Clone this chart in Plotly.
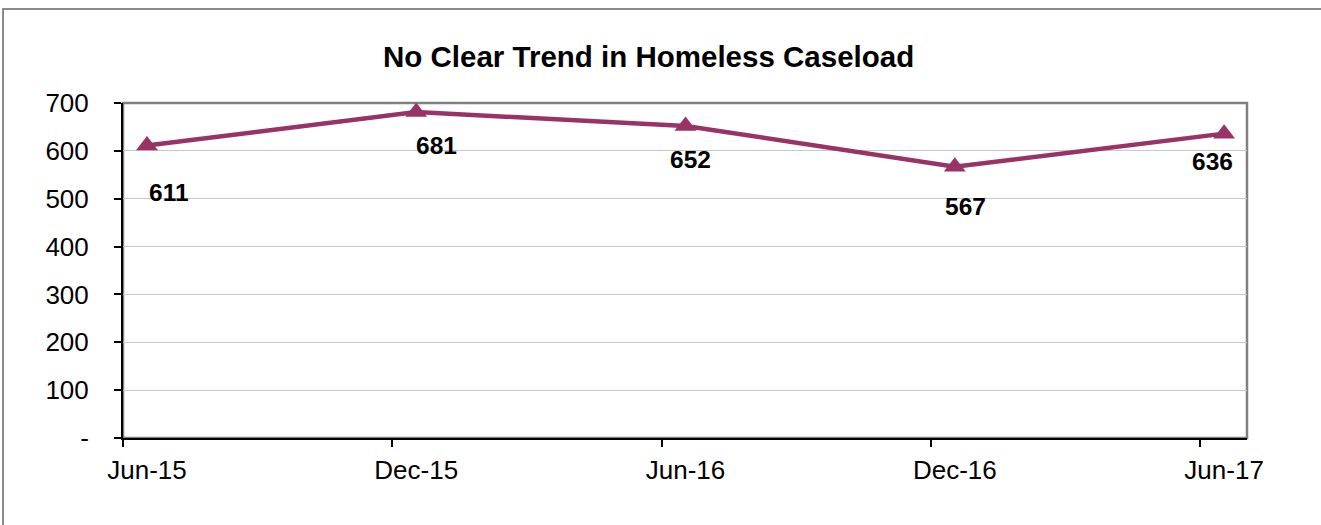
import plotly.graph_objects as go

# ---- data ----
categories = ["Jun-15", "Dec-15", "Jun-16", "Dec-16", "Jun-17"]
caseload = [611, 681, 652, 567, 636]
y_tick_vals = [0, 100, 200, 300, 400, 500, 600, 700]
y_tick_text = ["-", "100", "200", "300", "400", "500", "600", "700"]
title_text = "No Clear Trend in Homeless Caseload"

# ---- label offsets (pixels, style only) ----
label_dx = [22, 20, 5, 11, -12]
label_dy = [-47, -33, -34, -40, -28]

x_idx = list(range(len(categories)))
x_lo, x_hi = -0.089, 4.085
minor_ticks = [i + x_lo for i in x_idx]

FONT = "Liberation Sans, Arial, sans-serif"
LINE_COLOR = "#993366"

fig = go.Figure()
fig.add_trace(go.Scatter(
    x=x_idx, y=caseload, mode="lines+markers",
    line=dict(color=LINE_COLOR, width=4.5),
    marker=dict(symbol="triangle-up", size=19, color=LINE_COLOR),
    hoverinfo="skip", showlegend=False,
))

for xi, v, dx, dy in zip(x_idx, caseload, label_dx, label_dy):
    fig.add_annotation(x=xi, y=v, text=f"<b>{v}</b>", showarrow=False,
                       xshift=dx, yshift=dy,
                       font=dict(family=FONT, size=24.5, color="black"))

fig.update_layout(
    width=1321, height=525,
    margin=dict(l=123, r=74, t=103, b=87),
    paper_bgcolor="white", plot_bgcolor="white",
    title=dict(text=f"<b>{title_text}</b>", x=0.491, xref="container", xanchor="center",
               y=1 - 57 / 525, yref="container", yanchor="middle",
               font=dict(family=FONT, size=29.5, color="black")),
    font=dict(family=FONT, size=26, color="black"),
    xaxis=dict(range=[x_lo, x_hi], tickvals=x_idx, ticktext=categories,
               ticks="", showgrid=False, zeroline=False,
               showline=True, linecolor="black", linewidth=2,
               ticklabelstandoff=8,
               minor=dict(tickvals=minor_ticks, ticks="outside", ticklen=7,
                          tickcolor="black", tickwidth=1.5, showgrid=False),
               tickfont=dict(family=FONT, size=26, color="black")),
    yaxis=dict(range=[0, 700], tickvals=y_tick_vals, ticktext=y_tick_text,
               ticks="outside", ticklen=7, tickcolor="black", tickwidth=1.5,
               ticklabelstandoff=20,
               showgrid=True, gridcolor="#c8c8c8", gridwidth=1,
               zeroline=False, showline=True, linecolor="black", linewidth=2,
               tickfont=dict(family=FONT, size=26, color="black")),
)

# plot-area frame (gray top/right)
fig.add_shape(type="rect", xref="paper", yref="paper", x0=0, x1=1, y0=0, y1=1,
              line=dict(color="#808080", width=2.5), layer="between")
# outer chart border
fig.add_shape(type="rect", xref="paper", yref="paper",
              x0=(3 - 123) / 1124, x1=(1330 - 123) / 1124,
              y0=(438 - 535) / 335, y1=(438 - 9) / 335,
              line=dict(color="#666666", width=1.5), layer="below")

fig.write_html("out.html", config={"displayModeBar": False},
               post_script="document.body.style.margin='0';document.body.style.overflow='hidden';")
